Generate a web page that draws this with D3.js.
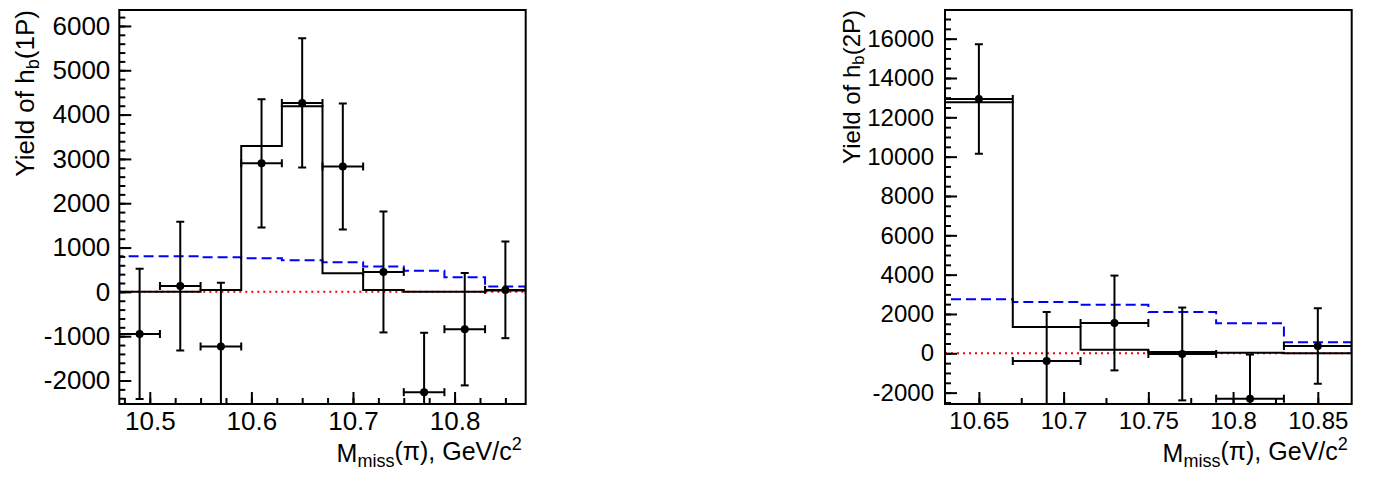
<!DOCTYPE html>
<html>
<head>
<meta charset="utf-8">
<script src="https://cdn.jsdelivr.net/npm/d3@7"></script>
<style>
  body { margin: 0; background: #fff; }
  text { font-family: "Liberation Sans", Arial, sans-serif; fill: #000; }
</style>
</head>
<body>
<div id="vis-holder"></div>
<script>
// Data
// h_b(1P) panel
const bins1 = [10.49, 10.53, 10.57, 10.61, 10.65, 10.69, 10.73, 10.77, 10.81, 10.85];
const yield1 = [-950, 130, -1233, 2900, 4263, 2827, 450, -2263, -842, 45];
const err1 = [1470, 1455, 1440, 1447, 1458, 1421, 1365, 1340, 1268, 1090];
const fit1 = [0, 0, 45, 3293, 4190, 421, 45, 5, 0, 30];
const bkg1 = [805, 805, 782, 759, 714, 669, 571, 474, 331, 120];

// h_b(2P) panel
const bins2 = [10.65, 10.69, 10.73, 10.77, 10.81, 10.85];
const yield2 = [12932, -390, 1542, -34, -2305, 373];
const err2 = [2780, 2490, 2410, 2360, 2240, 1915];
const fit2 = [12763, 1339, 186, 68, 34, 0];
const bkg2 = [2746, 2610, 2475, 2102, 1525, 559];

const binWidth = 0.04;

const svg = d3.select("#vis-holder")
  .append("svg")
  .attr("width", 1379)
  .attr("height", 477);

// one panel of the figure
function drawPanel(p) {
  const x = d3.scaleLinear().domain(p.xDomain).range([p.left, p.right]);
  const y = d3.scaleLinear().domain(p.yDomain).range([p.bottom, p.top]);
  const g = svg.append("g");

  g.append("clipPath").attr("id", p.id)
    .append("rect")
    .attr("x", p.left).attr("y", p.top)
    .attr("width", p.right - p.left).attr("height", p.bottom - p.top);

  const plot = g.append("g").attr("clip-path", `url(#${p.id})`);

  // zero line
  plot.append("line")
    .attr("x1", p.left).attr("x2", p.right)
    .attr("y1", y(0)).attr("y2", y(0))
    .attr("stroke", "#ff0000").attr("stroke-width", 2)
    .attr("stroke-dasharray", "2,4");

  // step histogram as a path
  const line = d3.line().x((d) => x(d[0])).y((d) => y(d[1]));
  function steps(centers, vals) {
    const pts = [[centers[0] - binWidth / 2, 0]];
    centers.forEach((c, i) => {
      pts.push([c - binWidth / 2, vals[i]]);
      pts.push([c + binWidth / 2, vals[i]]);
    });
    pts.push([centers[centers.length - 1] + binWidth / 2, 0]);
    return pts;
  }

  plot.append("path")
    .attr("d", line(steps(p.bins, p.bkg)))
    .attr("fill", "none").attr("stroke", "#0000ff").attr("stroke-width", 2)
    .attr("stroke-dasharray", "10,5");

  plot.append("path")
    .attr("d", line(steps(p.bins, p.fit)))
    .attr("fill", "none").attr("stroke", "#000").attr("stroke-width", 2);

  // data points with error bars
  const pts = plot.selectAll(".pt")
    .data(p.bins.map((c, i) => ({ c: c, v: p.vals[i], e: p.errs[i] })))
    .enter().append("g").attr("class", "pt")
    .attr("stroke", "#000").attr("stroke-width", 2);

  pts.append("line")
    .attr("x1", (d) => x(d.c)).attr("x2", (d) => x(d.c))
    .attr("y1", (d) => y(d.v - d.e)).attr("y2", (d) => y(d.v + d.e));
  pts.append("line")
    .attr("x1", (d) => x(d.c) - 4).attr("x2", (d) => x(d.c) + 4)
    .attr("y1", (d) => y(d.v + d.e)).attr("y2", (d) => y(d.v + d.e));
  pts.append("line")
    .attr("x1", (d) => x(d.c) - 4).attr("x2", (d) => x(d.c) + 4)
    .attr("y1", (d) => y(d.v - d.e)).attr("y2", (d) => y(d.v - d.e));
  pts.append("line")
    .attr("x1", (d) => x(d.c - binWidth / 2)).attr("x2", (d) => x(d.c + binWidth / 2))
    .attr("y1", (d) => y(d.v)).attr("y2", (d) => y(d.v));
  pts.append("line")
    .attr("x1", (d) => x(d.c - binWidth / 2)).attr("x2", (d) => x(d.c - binWidth / 2))
    .attr("y1", (d) => y(d.v) - 4).attr("y2", (d) => y(d.v) + 4);
  pts.append("line")
    .attr("x1", (d) => x(d.c + binWidth / 2)).attr("x2", (d) => x(d.c + binWidth / 2))
    .attr("y1", (d) => y(d.v) - 4).attr("y2", (d) => y(d.v) + 4);
  pts.append("circle")
    .attr("cx", (d) => x(d.c)).attr("cy", (d) => y(d.v))
    .attr("r", 4).attr("fill", "#000").attr("stroke", "none");

  // axes, ticks pointing inward
  const fmtY = (d) => String(d);   // plain hyphen minus like the original
  g.append("g")
    .attr("transform", `translate(${p.left},0)`)
    .call(d3.axisLeft(y).tickValues(p.yMinor).tickSize(-6).tickFormat(""))
    .call((a) => a.select(".domain").remove())
    .selectAll("line").attr("stroke-width", 2);
  g.append("g")
    .attr("transform", `translate(${p.left},0)`)
    .call(d3.axisLeft(y).tickValues(p.yMajor).tickSize(-12).tickPadding(p.yPad).tickFormat(fmtY))
    .call((a) => a.select(".domain").remove())
    .call((a) => a.selectAll("line").attr("stroke-width", 2))
    .selectAll("text").attr("font-size", p.fs + "px")
    .attr("font-family", "Liberation Sans, Arial, sans-serif");

  g.append("g")
    .attr("transform", `translate(0,${p.bottom})`)
    .call(d3.axisBottom(x).tickValues(p.xMinor).tickSize(-6).tickFormat(""))
    .call((a) => a.select(".domain").remove())
    .selectAll("line").attr("stroke-width", 2);
  g.append("g")
    .attr("transform", `translate(0,${p.bottom})`)
    .call(d3.axisBottom(x).tickValues(p.xMajor).tickSize(-12).tickPadding(8).tickFormat((d) => String(+d.toFixed(2))))
    .call((a) => a.select(".domain").remove())
    .call((a) => a.selectAll("line").attr("stroke-width", 2))
    .selectAll("text").attr("font-size", p.fs + "px")
    .attr("font-family", "Liberation Sans, Arial, sans-serif");

  // frame
  g.append("rect")
    .attr("x", p.left).attr("y", p.top)
    .attr("width", p.right - p.left).attr("height", p.bottom - p.top)
    .attr("fill", "none").attr("stroke", "#000").attr("stroke-width", 2);

  // axis titles
  const yt = g.append("text")
    .attr("transform", `translate(${p.left - 85},${p.top}) rotate(-90)`)
    .attr("text-anchor", "end")
    .attr("font-size", p.fs + "px");
  yt.append("tspan").text("Yield of h");
  yt.append("tspan").attr("font-size", (p.fs * 0.7) + "px").attr("dy", "0.25em").text("b");
  yt.append("tspan").attr("dy", "-0.18em").text(p.state);

  const xt = g.append("text")
    .attr("x", p.right - 4).attr("y", 462)
    .attr("text-anchor", "end")
    .attr("font-size", "25px");
  xt.append("tspan").text("M");
  xt.append("tspan").attr("font-size", "18px").attr("dy", "0.3em").text("miss");
  xt.append("tspan").attr("dy", "-0.3em").text("(π), GeV/c");
  xt.append("tspan").attr("font-size", "18px").attr("dy", "-0.55em").text("2");
}

drawPanel({
  id: "clip1", left: 119.3, right: 525.7, top: 10, bottom: 404,
  xDomain: [10.47, 10.87], yDomain: [-2530, 6360],
  xMajor: [10.5, 10.6, 10.7, 10.8], xMinor: d3.range(10.475, 10.87, 0.025),
  yMajor: d3.range(-2000, 6001, 1000), yMinor: d3.range(-2400, 6360, 200),
  bins: bins1, vals: yield1, errs: err1, fit: fit1, bkg: bkg1,
  fs: 26, yPad: 9, state: "(1P)"
});

drawPanel({
  id: "clip2", left: 945, right: 1351.7, top: 10, bottom: 404,
  xDomain: [10.63, 10.87], yDomain: [-2578, 17458],
  xMajor: [10.65, 10.7, 10.75, 10.8, 10.85], xMinor: d3.range(10.65, 10.87, 0.025),
  yMajor: d3.range(-2000, 16001, 2000), yMinor: d3.range(-2500, 17458, 500),
  bins: bins2, vals: yield2, errs: err2, fit: fit2, bkg: bkg2,
  fs: 24, yPad: 11, state: "(2P)"
});
</script>
</body>
</html>
